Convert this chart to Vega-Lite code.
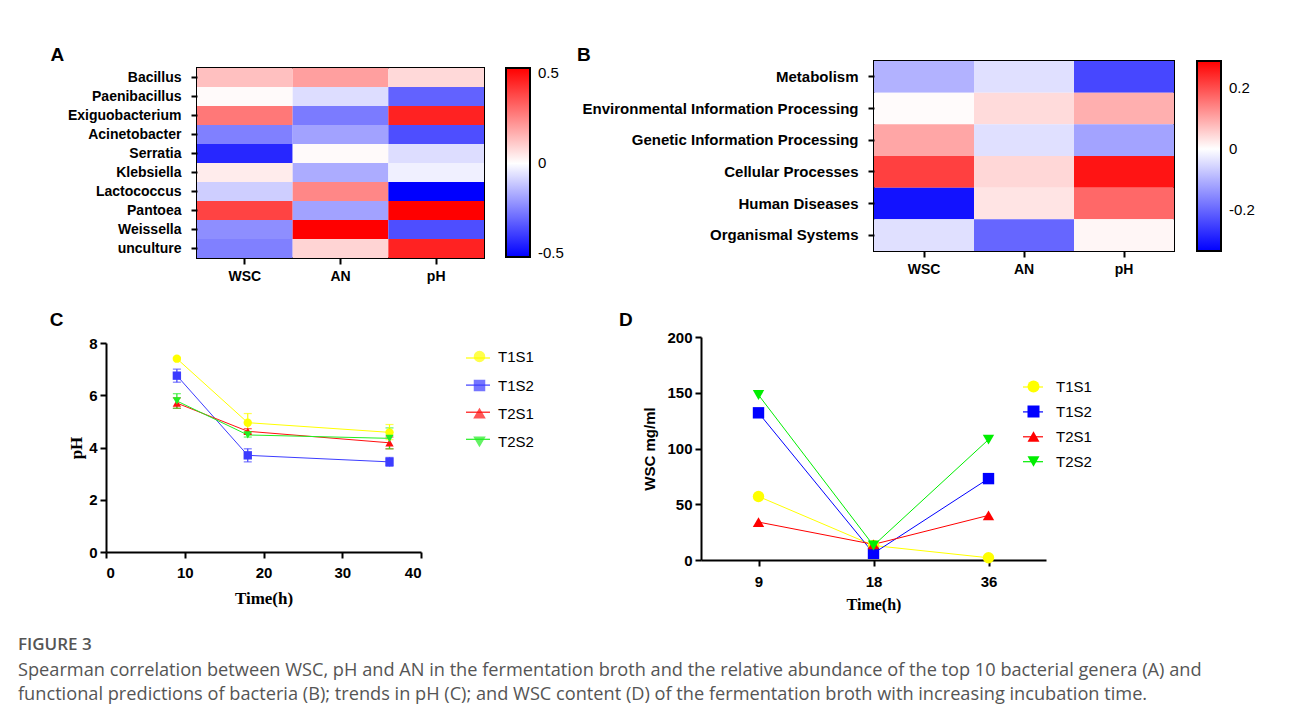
{
  "$schema": "https://vega.github.io/schema/vega-lite/v6.json",
  "background": "white",
  "padding": {"left": 18, "top": 44, "right": 0, "bottom": 20},
  "title": {
    "text": "FIGURE 3",
    "subtitle": [
      "Spearman correlation between WSC, pH and AN in the fermentation broth and the relative abundance of the top 10 bacterial genera (A) and",
      "functional predictions of bacteria (B); trends in pH (C); and WSC content (D) of the fermentation broth with increasing incubation time."
    ],
    "orient": "bottom",
    "anchor": "start",
    "frame": "bounds",
    "dx": -30,
    "offset": 25,
    "font": "Open Sans",
    "fontSize": 17,
    "fontWeight": 600,
    "color": "#555555",
    "subtitleFont": "Open Sans",
    "subtitleFontSize": 18.2,
    "subtitleColor": "#555555",
    "subtitleLineHeight": 24,
    "subtitlePadding": 8
  },
  "spacing": 26,
  "resolve": {"scale": {"color": "independent", "shape": "independent", "stroke": "independent"}, "legend": {"color": "independent", "stroke": "independent"}},
  "vconcat": [
    {
      "spacing": 10,
      "resolve": {"scale": {"color": "independent"}, "legend": {"color": "independent"}},
      "hconcat": [
        {
          "concat": [
            {"data": {"values": [{"d": 0}]}, "mark": {"type": "point", "size": 0, "opacity": 0}, "width": 0.01, "height": 0.01},
            {"data": {"values": [{"d": 0}]}, "mark": {"type": "point", "size": 0, "opacity": 0}, "width": 0.01, "height": 0.01},
            {"data": {"values": [{"d": 0}]}, "mark": {"type": "point", "size": 0, "opacity": 0}, "width": 0.01, "height": 0.01},
            {
              "width": 287,
              "height": 190,
              "title": {"text": "A", "dx": -17, "offset": 3},
              "view": {"stroke": "black", "strokeWidth": 2},
              "data": {"values": [
                {"genus": "Bacillus", "var": "WSC", "r": 0.13}, {"genus": "Bacillus", "var": "AN", "r": 0.2}, {"genus": "Bacillus", "var": "pH", "r": 0.08},
                {"genus": "Paenibacillus", "var": "WSC", "r": 0.01}, {"genus": "Paenibacillus", "var": "AN", "r": -0.07}, {"genus": "Paenibacillus", "var": "pH", "r": -0.32},
                {"genus": "Exiguobacterium", "var": "WSC", "r": 0.28}, {"genus": "Exiguobacterium", "var": "AN", "r": -0.27}, {"genus": "Exiguobacterium", "var": "pH", "r": 0.46},
                {"genus": "Acinetobacter", "var": "WSC", "r": -0.26}, {"genus": "Acinetobacter", "var": "AN", "r": -0.19}, {"genus": "Acinetobacter", "var": "pH", "r": -0.36},
                {"genus": "Serratia", "var": "WSC", "r": -0.44}, {"genus": "Serratia", "var": "AN", "r": 0.01}, {"genus": "Serratia", "var": "pH", "r": -0.07},
                {"genus": "Klebsiella", "var": "WSC", "r": 0.04}, {"genus": "Klebsiella", "var": "AN", "r": -0.17}, {"genus": "Klebsiella", "var": "pH", "r": -0.03},
                {"genus": "Lactococcus", "var": "WSC", "r": -0.1}, {"genus": "Lactococcus", "var": "AN", "r": 0.25}, {"genus": "Lactococcus", "var": "pH", "r": -0.52},
                {"genus": "Pantoea", "var": "WSC", "r": 0.39}, {"genus": "Pantoea", "var": "AN", "r": -0.19}, {"genus": "Pantoea", "var": "pH", "r": 0.53},
                {"genus": "Weissella", "var": "WSC", "r": -0.23}, {"genus": "Weissella", "var": "AN", "r": 0.53}, {"genus": "Weissella", "var": "pH", "r": -0.36},
                {"genus": "unculture", "var": "WSC", "r": -0.26}, {"genus": "unculture", "var": "AN", "r": 0.09}, {"genus": "unculture", "var": "pH", "r": 0.46}
              ]},
              "mark": {"type": "rect", "strokeWidth": 0},
              "encoding": {
                "x": {"field": "var", "type": "nominal", "sort": ["WSC", "AN", "pH"], "scale": {"paddingInner": 0, "paddingOuter": 0},
                  "axis": {"title": null, "domain": false, "labelAngle": 0, "tickSize": 6, "tickWidth": 2, "labelFontSize": 14, "labelPadding": 5, "bandPosition": 0.5}},
                "y": {"field": "genus", "type": "nominal", "sort": ["Bacillus", "Paenibacillus", "Exiguobacterium", "Acinetobacter", "Serratia", "Klebsiella", "Lactococcus", "Pantoea", "Weissella", "unculture"],
                  "scale": {"paddingInner": 0, "paddingOuter": 0},
                  "axis": {"title": null, "domain": false, "tickSize": 6, "tickWidth": 2, "labelFontSize": 14, "labelPadding": 10, "labelLimit": 0, "bandPosition": 0.5}},
                "color": {"field": "r", "type": "quantitative",
                  "scale": {"domain": [-0.52, 0.53], "domainMid": 0, "range": ["#0000ff", "#ffffff", "#ff0000"], "interpolate": "rgb"},
                  "legend": {"title": null, "orient": "right", "offset": 22, "padding": 0, "gradientLength": 189, "gradientThickness": 24,
                    "gradientStrokeColor": "black", "gradientStrokeWidth": 2, "values": [-0.5, 0, 0.5], "labelOverlap": false,
                    "labelFontSize": 15, "labelOffset": 8, "labelFontWeight": "normal",
                    "labelExpr": "datum.value === 0 ? '0' : (datum.value < 0 ? '-' : '') + format(abs(datum.value), '.1f')"}}
              }
            }
          ],
          "columns": 2,
          "align": "none",
          "spacing": 0,
          "resolve": {"scale": {"color": "independent"}, "legend": {"color": "independent"}}
        },
        {
          "concat": [
            {"data": {"values": [{"d": 0}]}, "mark": {"type": "point", "size": 0, "opacity": 0}, "width": 0.01, "height": 0.01},
            {"data": {"values": [{"d": 0}]}, "mark": {"type": "point", "size": 0, "opacity": 0}, "width": 0.01, "height": 0.01},
            {"data": {"values": [{"d": 0}]}, "mark": {"type": "point", "size": 0, "opacity": 0}, "width": 0.01, "height": 0.01},
            {
              "width": 300,
              "height": 190,
              "title": {"text": "B", "dx": -5, "offset": -4},
              "view": {"stroke": "black", "strokeWidth": 2},
              "data": {"values": [
                {"f": "Metabolism", "var": "WSC", "r": -0.1}, {"f": "Metabolism", "var": "AN", "r": -0.04}, {"f": "Metabolism", "var": "pH", "r": -0.24},
                {"f": "Environmental Information Processing", "var": "WSC", "r": 0.005}, {"f": "Environmental Information Processing", "var": "AN", "r": 0.04}, {"f": "Environmental Information Processing", "var": "pH", "r": 0.09},
                {"f": "Genetic Information Processing", "var": "WSC", "r": 0.1}, {"f": "Genetic Information Processing", "var": "AN", "r": -0.04}, {"f": "Genetic Information Processing", "var": "pH", "r": -0.12},
                {"f": "Cellular Processes", "var": "WSC", "r": 0.215}, {"f": "Cellular Processes", "var": "AN", "r": 0.045}, {"f": "Cellular Processes", "var": "pH", "r": 0.265},
                {"f": "Human Diseases", "var": "WSC", "r": -0.31}, {"f": "Human Diseases", "var": "AN", "r": 0.03}, {"f": "Human Diseases", "var": "pH", "r": 0.17},
                {"f": "Organismal Systems", "var": "WSC", "r": -0.04}, {"f": "Organismal Systems", "var": "AN", "r": -0.2}, {"f": "Organismal Systems", "var": "pH", "r": 0.01}
              ]},
              "mark": {"type": "rect", "strokeWidth": 0},
              "encoding": {
                "x": {"field": "var", "type": "nominal", "sort": ["WSC", "AN", "pH"], "scale": {"paddingInner": 0, "paddingOuter": 0},
                  "axis": {"title": null, "domain": false, "labelAngle": 0, "tickSize": 6, "tickWidth": 2, "labelFontSize": 14, "labelPadding": 5, "bandPosition": 0.5}},
                "y": {"field": "f", "type": "nominal", "sort": ["Metabolism", "Environmental Information Processing", "Genetic Information Processing", "Cellular Processes", "Human Diseases", "Organismal Systems"],
                  "scale": {"paddingInner": 0, "paddingOuter": 0},
                  "axis": {"title": null, "domain": false, "tickSize": 6, "tickWidth": 2, "labelFontSize": 15, "labelPadding": 10, "labelLimit": 0, "bandPosition": 0.5}},
                "color": {"field": "r", "type": "quantitative",
                  "scale": {"domain": [-0.333, 0.287], "domainMid": 0, "range": ["#0000ff", "#ffffff", "#ff0000"], "interpolate": "rgb"},
                  "legend": {"title": null, "orient": "right", "offset": 23, "padding": 0, "gradientLength": 190, "gradientThickness": 24,
                    "gradientStrokeColor": "black", "gradientStrokeWidth": 2, "values": [-0.2, 0, 0.2], "labelOverlap": false,
                    "labelFontSize": 15, "labelOffset": 8, "labelFontWeight": "normal",
                    "labelExpr": "datum.value === 0 ? '0' : (datum.value < 0 ? '-' : '') + format(abs(datum.value), '.1f')"}}
              }
            }
          ],
          "columns": 2,
          "align": "none",
          "spacing": 0,
          "resolve": {"scale": {"color": "independent"}, "legend": {"color": "independent"}}
        }
      ]
    },
    {
      "spacing": 83,
      "resolve": {"scale": {"color": "independent", "shape": "independent", "stroke": "independent"}, "legend": {"color": "independent", "stroke": "independent"}},
      "hconcat": [
        {
          "concat": [
            {"data": {"values": [{"d": 0}]}, "mark": {"type": "point", "size": 0, "opacity": 0}, "width": 0.01, "height": 0.01},
            {"data": {"values": [{"d": 0}]}, "mark": {"type": "point", "size": 0, "opacity": 0}, "width": 0.01, "height": 0.01},
            {"data": {"values": [{"d": 0}]}, "mark": {"type": "point", "size": 0, "opacity": 0}, "width": 0.01, "height": 0.01},
            {
              "width": 315,
              "height": 209,
              "title": {"text": "C", "dx": -18, "offset": 6},
              "data": {"values": [
                {"g": "T1S1", "t": 9, "ph": 7.4, "lo": 7.35, "hi": 7.45},
                {"g": "T1S1", "t": 18, "ph": 4.95, "lo": 4.6, "hi": 5.3},
                {"g": "T1S1", "t": 36, "ph": 4.58, "lo": 4.3, "hi": 4.88},
                {"g": "T1S2", "t": 9, "ph": 6.75, "lo": 6.5, "hi": 7.0},
                {"g": "T1S2", "t": 18, "ph": 3.7, "lo": 3.45, "hi": 3.95},
                {"g": "T1S2", "t": 36, "ph": 3.45, "lo": 3.28, "hi": 3.62},
                {"g": "T2S1", "t": 9, "ph": 5.7, "lo": 5.5, "hi": 5.9},
                {"g": "T2S1", "t": 18, "ph": 4.62, "lo": 4.52, "hi": 4.72},
                {"g": "T2S1", "t": 36, "ph": 4.18, "lo": 3.95, "hi": 4.4},
                {"g": "T2S2", "t": 9, "ph": 5.78, "lo": 5.5, "hi": 6.06},
                {"g": "T2S2", "t": 18, "ph": 4.48, "lo": 4.4, "hi": 4.56},
                {"g": "T2S2", "t": 36, "ph": 4.35, "lo": 3.95, "hi": 4.75}
              ]},
              "encoding": {
                "x": {"field": "t", "type": "quantitative", "scale": {"domain": [0, 40], "nice": false},
                  "axis": {"title": "Time(h)", "values": [0, 10, 20, 30, 40], "domainWidth": 2, "tickWidth": 2, "tickSize": 6, "labelFontSize": 15, "labelPadding": 7,
                    "titleFont": "Liberation Serif", "titleFontSize": 17, "titlePadding": 10}},
                "color": {"field": "g", "type": "nominal",
                  "scale": {"domain": ["T1S1", "T1S2", "T2S1", "T2S2"], "range": ["#ffff00", "#3c3cff", "#ff1010", "#22ee22"]},
                  "legend": {"title": null, "orient": "none", "legendX": 366, "legendY": 6, "padding": 0, "symbolSize": 100, "labelOffset": 11,
                    "rowPadding": 12, "labelFontSize": 15, "labelFontWeight": "normal"}}
              },
              "layer": [
                {
                  "mark": {"type": "errorbar", "ticks": {"size": 8}, "thickness": 1.2},
                  "encoding": {
                    "y": {"field": "lo", "type": "quantitative", "scale": {"domain": [0, 8], "nice": false},
                      "axis": {"title": "pH", "values": [0, 2, 4, 6, 8], "domainWidth": 2, "tickWidth": 2, "tickSize": 6, "labelFontSize": 15, "labelPadding": 3,
                        "titleFont": "Liberation Serif", "titleFontSize": 17, "titlePadding": 3}},
                    "y2": {"field": "hi"}
                  }
                },
                {
                  "mark": {"type": "line", "strokeWidth": 1},
                  "encoding": {
                    "y": {"field": "ph", "type": "quantitative"},
                    "stroke": {"field": "g", "type": "nominal",
                      "scale": {"range": ["#ffff00", "#3c3cff", "#ff1010", "#22ee22"]},
                      "legend": {"title": null, "orient": "none", "legendX": 359, "legendY": 2, "padding": 0, "symbolType": "stroke", "symbolSize": 576,
                        "symbolStrokeWidth": 1.2, "labelOffset": 4, "rowPadding": 6.1, "labelFontSize": 15, "labelExpr": "''"}}
                  }
                },
                {
                  "mark": {"type": "point", "filled": true, "size": 70, "opacity": 1},
                  "encoding": {
                    "y": {"field": "ph", "type": "quantitative"},
                    "shape": {"field": "g", "type": "nominal", "scale": {"domain": ["T1S1", "T1S2", "T2S1", "T2S2"], "range": ["circle", "square", "triangle-up", "triangle-down"]}, "legend": null}
                  }
                }
              ]
            }
          ],
          "columns": 2,
          "align": "none",
          "spacing": 0,
          "resolve": {"scale": {"color": "independent", "shape": "independent", "stroke": "independent"}, "legend": {"color": "independent", "stroke": "independent"}}
        },
        {
          "concat": [
            {"data": {"values": [{"d": 0}]}, "mark": {"type": "point", "size": 0, "opacity": 0}, "width": 0.01, "height": 0.01},
            {"data": {"values": [{"d": 0}]}, "mark": {"type": "point", "size": 0, "opacity": 0}, "width": 0.01, "height": 0.01},
            {"data": {"values": [{"d": 0}]}, "mark": {"type": "point", "size": 0, "opacity": 0}, "width": 0.01, "height": 0.01},
            {
              "width": 345,
              "height": 223,
              "title": {"text": "D", "dx": -24, "offset": 0},
              "data": {"values": [
                {"g": "T1S1", "t": 9, "w": 57}, {"g": "T1S1", "t": 18, "w": 13}, {"g": "T1S1", "t": 36, "w": 2},
                {"g": "T1S2", "t": 9, "w": 132}, {"g": "T1S2", "t": 18, "w": 6}, {"g": "T1S2", "t": 36, "w": 73},
                {"g": "T2S1", "t": 9, "w": 34}, {"g": "T2S1", "t": 18, "w": 14}, {"g": "T2S1", "t": 36, "w": 40},
                {"g": "T2S2", "t": 9, "w": 148}, {"g": "T2S2", "t": 18, "w": 13}, {"g": "T2S2", "t": 36, "w": 108}
              ]},
              "encoding": {
                "x": {"field": "t", "type": "ordinal", "scale": {"type": "point", "padding": 0.5},
                  "axis": {"title": "Time(h)", "labelAngle": 0, "domainWidth": 2, "tickWidth": 2, "tickSize": 6, "labelFontSize": 15, "labelPadding": 8,
                    "titleFont": "Liberation Serif", "titleFontSize": 16, "titlePadding": 7}},
                "y": {"field": "w", "type": "quantitative", "scale": {"domain": [0, 200], "nice": false},
                  "axis": {"title": "WSC mg/ml", "values": [0, 50, 100, 150, 200], "domainWidth": 2, "tickWidth": 2, "tickSize": 6, "labelFontSize": 15, "labelPadding": 3,
                    "titleFontSize": 15, "titlePadding": 9}},
                "color": {"field": "g", "type": "nominal",
                  "scale": {"domain": ["T1S1", "T1S2", "T2S1", "T2S2"], "range": ["#ffff00", "#0000ff", "#ff0000", "#00ee00"]},
                  "legend": {"title": null, "orient": "none", "legendX": 325, "legendY": 42, "padding": 0, "symbolSize": 144, "labelOffset": 15,
                    "rowPadding": 9, "labelFontSize": 15, "labelFontWeight": "normal"}}
              },
              "layer": [
                {
                  "mark": {"type": "line", "strokeWidth": 1},
                  "encoding": {
                    "stroke": {"field": "g", "type": "nominal",
                      "scale": {"range": ["#ffff00", "#0000ff", "#ff0000", "#00ee00"]},
                      "legend": {"title": null, "orient": "none", "legendX": 321, "legendY": 39, "padding": 0, "symbolType": "stroke", "symbolSize": 400,
                        "symbolStrokeWidth": 1.2, "labelOffset": 4, "rowPadding": 5.9, "labelFontSize": 15, "labelExpr": "''"}}
                  }
                },
                {
                  "mark": {"type": "point", "filled": true, "size": 130, "opacity": 1},
                  "encoding": {
                    "shape": {"field": "g", "type": "nominal", "scale": {"domain": ["T1S1", "T1S2", "T2S1", "T2S2"], "range": ["circle", "square", "triangle-up", "triangle-down"]}, "legend": null}
                  }
                }
              ]
            }
          ],
          "columns": 2,
          "align": "none",
          "spacing": 0,
          "resolve": {"scale": {"color": "independent", "shape": "independent", "stroke": "independent"}, "legend": {"color": "independent", "stroke": "independent"}}
        }
      ]
    }
  ],
  "config": {
    "view": {"stroke": null},
    "axis": {"grid": false, "domainColor": "black", "tickColor": "black", "labelColor": "black", "titleColor": "black",
      "labelFont": "Liberation Sans", "titleFont": "Liberation Sans", "labelFontWeight": "bold", "titleFontWeight": "bold"},
    "title": {"font": "Liberation Sans", "fontSize": 19, "fontWeight": "bold", "anchor": "start", "frame": "bounds", "color": "black"},
    "legend": {"labelFont": "Liberation Sans", "labelColor": "black", "labelFontSize": 15}
  }
}
